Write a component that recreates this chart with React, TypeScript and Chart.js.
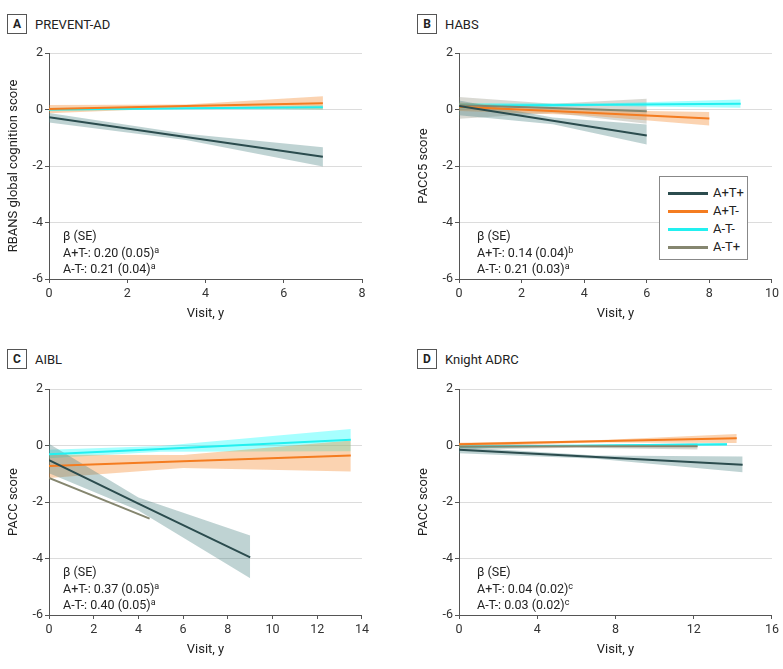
import React, { useEffect, useRef } from "react";
import { Chart, registerables } from "chart.js";
Chart.register(...registerables);

// ---------- series styling ----------
const seriesNames = ["A+T+", "A+T-", "A-T-", "A-T+"];
const lineColors = ["#2b4c4e", "#f47c20", "#22f0f0", "#85866f"];
const bandColors = [
  "rgba(78,132,132,0.36)",
  "rgba(244,140,50,0.38)",
  "rgba(0,255,255,0.35)",
  "rgba(128,128,108,0.30)",
];
const lineOrder = [0, 1, 3, 2];

// ---------- Panel A: PREVENT-AD ----------
const aXMax = 8;
const aXStep = 2;
const aApTp_x = [0, 3.5, 7];
const aApTp_fit = [-0.27, -0.97, -1.67];
const aApTp_lo = [-0.46, -1.08, -2.02];
const aApTp_hi = [-0.12, -0.86, -1.34];
const aApTm_x = [0, 3.5, 7];
const aApTm_fit = [0.02, 0.12, 0.22];
const aApTm_lo = [-0.13, 0.06, 0.0];
const aApTm_hi = [0.16, 0.18, 0.47];
const aAmTm_x = [0, 3.5, 7];
const aAmTm_fit = [0.0, 0.04, 0.08];
const aAmTm_lo = [-0.06, 0.01, 0.0];
const aAmTm_hi = [0.06, 0.07, 0.16];

// ---------- Panel B: HABS ----------
const bXMax = 10;
const bXStep = 2;
const bApTp_x = [0, 3, 6];
const bApTp_fit = [0.12, -0.4, -0.92];
const bApTp_lo = [-0.2, -0.52, -1.24];
const bApTp_hi = [0.32, -0.28, -0.53];
const bApTm_x = [0, 4, 8];
const bApTm_fit = [0.1, -0.11, -0.32];
const bApTm_lo = [-0.05, -0.2, -0.57];
const bApTm_hi = [0.25, -0.02, -0.09];
const bAmTm_x = [0, 4.5, 9];
const bAmTm_fit = [0.13, 0.165, 0.2];
const bAmTm_lo = [0.03, 0.12, 0.06];
const bAmTm_hi = [0.23, 0.21, 0.35];
const bAmTp_x = [0, 3, 6];
const bAmTp_fit = [0.15, 0.05, -0.06];
const bAmTp_lo = [-0.33, -0.12, -0.5];
const bAmTp_hi = [0.44, 0.2, 0.38];

// ---------- Panel C: AIBL ----------
const cXMax = 14;
const cXStep = 2;
const cApTp_x = [0, 4, 9];
const cApTp_fit = [-0.52, -2.06, -3.96];
const cApTp_lo = [-0.98, -2.3, -4.7];
const cApTp_hi = [0.06, -1.84, -3.19];
const cApTm_x = [0, 6, 13.5];
const cApTm_fit = [-0.73, -0.56, -0.35];
const cApTm_lo = [-1.15, -0.8, -0.92];
const cApTm_hi = [-0.33, -0.34, 0.18];
const cAmTm_x = [0, 5, 13.5];
const cAmTm_fit = [-0.31, -0.12, 0.2];
const cAmTm_lo = [-0.45, -0.22, -0.2];
const cAmTm_hi = [-0.15, -0.02, 0.58];
const cAmTp_x = [0, 4.5];
const cAmTp_fit = [-1.15, -2.59];

// ---------- Panel D: Knight ADRC ----------
const dXMax = 16;
const dXStep = 4;
const dApTp_x = [0, 7, 14.5];
const dApTp_fit = [-0.15, -0.41, -0.68];
const dApTp_lo = [-0.27, -0.47, -0.95];
const dApTp_hi = [-0.05, -0.35, -0.39];
const dApTm_x = [0, 7, 14.2];
const dApTm_fit = [0.04, 0.15, 0.26];
const dApTm_lo = [-0.03, 0.11, 0.09];
const dApTm_hi = [0.1, 0.19, 0.41];
const dAmTm_x = [0, 7, 13.7];
const dAmTm_fit = [-0.04, 0.0, 0.04];
const dAmTm_lo = [-0.08, -0.02, -0.01];
const dAmTm_hi = [0.0, 0.02, 0.09];
const dAmTp_x = [0, 6, 12.2];
const dAmTp_fit = [-0.04, -0.03, -0.03];
const dAmTp_lo = [-0.15, -0.08, -0.14];
const dAmTp_hi = [0.08, 0.02, 0.08];

type Series = { x: number[]; fit: number[]; lo?: number[]; hi?: number[] } | null;

const FONT = "Roboto, 'Open Sans', sans-serif";

function Panel(props: {
  left: number;
  top: number;
  xMax: number;
  xStep: number;
  yTitle: string;
  series: Series[];
}) {
  const ref = useRef<HTMLCanvasElement | null>(null);
  useEffect(() => {
    if (!ref.current) return;
    const datasets: any[] = [];
    props.series.forEach((s, i) => {
      if (!s) return;
      if (s.lo && s.hi) {
        datasets.push({
          label: seriesNames[i] + " upper",
          data: s.x.map((x, k) => ({ x, y: s.hi![k] })),
          borderColor: "transparent",
          borderWidth: 0,
          pointRadius: 0,
          fill: false,
          order: 10 + i,
        });
        datasets.push({
          label: seriesNames[i] + " lower",
          data: s.x.map((x, k) => ({ x, y: s.lo![k] })),
          borderColor: "transparent",
          borderWidth: 0,
          pointRadius: 0,
          fill: "-1",
          backgroundColor: bandColors[i],
          order: 10 + i,
        });
      }
      datasets.push({
        label: seriesNames[i],
        data: s.x.map((x, k) => ({ x, y: s.fit[k] })),
        borderColor: lineColors[i],
        borderWidth: 2,
        pointRadius: 0,
        fill: false,
        order: lineOrder[i],
      });
    });
    const chart = new Chart(ref.current, {
      type: "line",
      data: { datasets },
      options: {
        animation: false,
        responsive: false,
        events: [],
        layout: { padding: { top: 13, right: 10, bottom: 5, left: 0 } },
        plugins: { legend: { display: false }, tooltip: { enabled: false } },
        scales: {
          x: {
            type: "linear",
            min: 0,
            max: props.xMax,
            ticks: {
              stepSize: props.xStep,
              font: { family: FONT, size: 12.5 },
              color: "#333",
              padding: 3,
              maxRotation: 0,
            },
            grid: { drawOnChartArea: false, drawTicks: true, tickLength: 4, tickColor: "#555" },
            border: { display: true, color: "#555", width: 1 },
            title: {
              display: true,
              text: "Visit, y",
              font: { family: FONT, size: 13 },
              color: "#222",
              padding: { top: 0, bottom: 3 },
            },
            afterFit: (s: any) => {
              s.height = 46;
            },
          },
          y: {
            min: -6,
            max: 2,
            ticks: {
              stepSize: 2,
              font: { family: FONT, size: 12.5 },
              color: "#333",
              padding: 2,
            },
            grid: { color: "#dcdcdc", tickColor: "#555", tickLength: 4, lineWidth: 1 },
            border: { display: true, color: "#555", width: 1 },
            title: {
              display: true,
              text: props.yTitle,
              font: { family: FONT, size: 13 },
              color: "#222",
              padding: { top: 6, bottom: 0 },
            },
            afterFit: (s: any) => {
              s.width = 49;
            },
          },
        },
      } as any,
    });
    return () => chart.destroy();
  }, []);
  return (
    <canvas
      ref={ref}
      width={372}
      height={290}
      style={{ position: "absolute", left: props.left, top: props.top, width: 372, height: 290 }}
    />
  );
}

function Header(props: { left: number; top: number; letter: string; title: string }) {
  return (
    <div style={{ position: "absolute", left: props.left, top: props.top, height: 20, display: "flex", alignItems: "center" }}>
      <div
        style={{
          width: 18,
          height: 18,
          border: "1px solid #555",
          display: "flex",
          alignItems: "center",
          justifyContent: "center",
          fontWeight: 700,
          fontSize: 12,
          color: "#222",
        }}
      >
        {props.letter}
      </div>
      <div style={{ marginLeft: 8, fontSize: 13, color: "#222" }}>{props.title}</div>
    </div>
  );
}

function Stats(props: { left: number; top: number; l1: string; s1: string; l2: string; s2: string }) {
  const sup = { fontSize: 9, verticalAlign: "top", lineHeight: "12px", position: "relative" as const, top: -1 };
  return (
    <div style={{ position: "absolute", left: props.left, top: props.top, fontSize: 12.5, lineHeight: "16.5px", color: "#222" }}>
      <div>β (SE)</div>
      <div>
        {props.l1}
        <span style={sup}>{props.s1}</span>
      </div>
      <div>
        {props.l2}
        <span style={sup}>{props.s2}</span>
      </div>
    </div>
  );
}

function Legend() {
  return (
    <div
      style={{
        position: "absolute",
        left: 659,
        top: 176,
        width: 89,
        height: 84,
        boxSizing: "border-box",
        border: "1px solid #888",
        background: "#fff",
      }}
    >
      {seriesNames.map((n, i) => (
        <div key={n} style={{ position: "absolute", left: 0, top: 7 + i * 18, height: 18, width: 87 }}>
          <div style={{ position: "absolute", left: 8, top: 7.5, width: 40, height: 3, background: lineColors[i] }} />
          <div style={{ position: "absolute", left: 53, top: 0, lineHeight: "18px", fontSize: 13, color: "#222" }}>{n}</div>
        </div>
      ))}
    </div>
  );
}

export default function App() {
  return (
    <div
      style={{
        position: "absolute",
        left: 0,
        top: 0,
        width: 783,
        height: 669,
        background: "#fff",
        fontFamily: FONT,
        overflow: "hidden",
      }}
    >
      <Header left={7} top={14} letter="A" title="PREVENT-AD" />
      <Header left={417} top={14} letter="B" title="HABS" />
      <Header left={7} top={349} letter="C" title="AIBL" />
      <Header left={417} top={349} letter="D" title="Knight ADRC" />

      <Panel
        left={0}
        top={40}
        xMax={aXMax}
        xStep={aXStep}
        yTitle="RBANS global cognition score"
        series={[
          { x: aApTp_x, fit: aApTp_fit, lo: aApTp_lo, hi: aApTp_hi },
          { x: aApTm_x, fit: aApTm_fit, lo: aApTm_lo, hi: aApTm_hi },
          { x: aAmTm_x, fit: aAmTm_fit, lo: aAmTm_lo, hi: aAmTm_hi },
          null,
        ]}
      />
      <Panel
        left={410}
        top={40}
        xMax={bXMax}
        xStep={bXStep}
        yTitle="PACC5 score"
        series={[
          { x: bApTp_x, fit: bApTp_fit, lo: bApTp_lo, hi: bApTp_hi },
          { x: bApTm_x, fit: bApTm_fit, lo: bApTm_lo, hi: bApTm_hi },
          { x: bAmTm_x, fit: bAmTm_fit, lo: bAmTm_lo, hi: bAmTm_hi },
          { x: bAmTp_x, fit: bAmTp_fit, lo: bAmTp_lo, hi: bAmTp_hi },
        ]}
      />
      <Panel
        left={0}
        top={376}
        xMax={cXMax}
        xStep={cXStep}
        yTitle="PACC score"
        series={[
          { x: cApTp_x, fit: cApTp_fit, lo: cApTp_lo, hi: cApTp_hi },
          { x: cApTm_x, fit: cApTm_fit, lo: cApTm_lo, hi: cApTm_hi },
          { x: cAmTm_x, fit: cAmTm_fit, lo: cAmTm_lo, hi: cAmTm_hi },
          { x: cAmTp_x, fit: cAmTp_fit },
        ]}
      />
      <Panel
        left={410}
        top={376}
        xMax={dXMax}
        xStep={dXStep}
        yTitle="PACC score"
        series={[
          { x: dApTp_x, fit: dApTp_fit, lo: dApTp_lo, hi: dApTp_hi },
          { x: dApTm_x, fit: dApTm_fit, lo: dApTm_lo, hi: dApTm_hi },
          { x: dAmTm_x, fit: dAmTm_fit, lo: dAmTm_lo, hi: dAmTm_hi },
          { x: dAmTp_x, fit: dAmTp_fit, lo: dAmTp_lo, hi: dAmTp_hi },
        ]}
      />

      <Legend />

      <Stats left={63} top={228} l1="A+T-: 0.20 (0.05)" s1="a" l2="A-T-: 0.21 (0.04)" s2="a" />
      <Stats left={477} top={228} l1="A+T-: 0.14 (0.04)" s1="b" l2="A-T-: 0.21 (0.03)" s2="a" />
      <Stats left={63} top={564} l1="A+T-: 0.37 (0.05)" s1="a" l2="A-T-: 0.40 (0.05)" s2="a" />
      <Stats left={477} top={564} l1="A+T-: 0.04 (0.02)" s1="c" l2="A-T-: 0.03 (0.02)" s2="c" />
    </div>
  );
}
